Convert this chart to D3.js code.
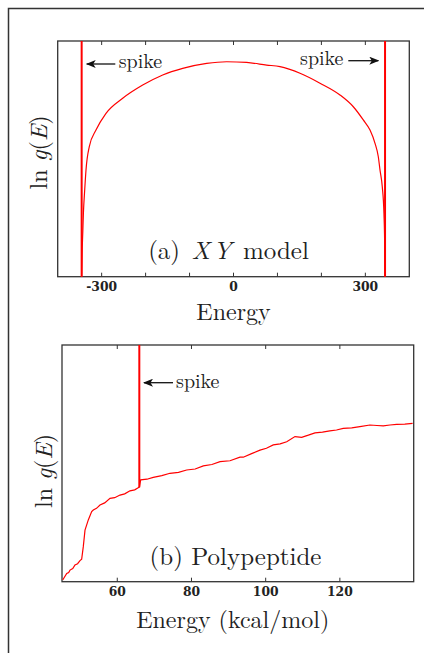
<!DOCTYPE html>
<html>
<head>
<meta charset="utf-8">
<script src="https://cdn.jsdelivr.net/npm/d3@7"></script>
<style>
  html, body { margin: 0; padding: 0; background: #fff; }
  svg { display: block; }
</style>
</head>
<body>
<script>
// (a) XY model: ln g(E) (arbitrary units 0..100)
const xyEnergy = [-345.5, -344.5, -343, -341.5, -338.5, -335.6, -328.1, -312.9, -290.1, -252.1, -206.6, -161.1, -115.6, -61, -15.5, 29.8, 75.3, 105.8, 151.3, 196.8, 242.3, 272.6, 295.3, 310.6, 322, 329.5, 333.3, 338.6, 342.3, 344.3, 344.8];
const xyLnG = [0, 10, 18.4, 27, 37, 45.3, 55.2, 62.2, 69.3, 75.7, 81.3, 85.6, 88.4, 90.5, 91.2, 90.9, 89.8, 89.1, 86.3, 82.1, 77.1, 72.1, 66.5, 62.2, 56.6, 50.9, 45.3, 38, 26.9, 10, 0];
const xySpikes = [-345.5, 344.8];
const xyTicks = [-300, -200, -100, 0, 100, 200, 300];
const xyTickLabels = [-300, 0, 300];

// (b) Polypeptide
const pepEnergy = [45.29, 46.37, 46.9, 47.26, 48.0, 48.6, 49.3, 49.95, 50.4, 50.84, 51.3, 52.19, 53.1, 53.54, 54.4, 55.34, 56.6, 58.04, 59.3, 60.73, 62.0, 63.43, 64.7, 65.85, 65.94, 66.31, 68.0, 69.7, 72.0, 74.2, 76.5, 78.7, 81.0, 83.19, 85.5, 87.7, 90.38, 93.08, 93.97, 96.2, 98.47, 100.2, 102.05, 103.9, 105.67, 107.9, 109.7, 111.5, 113.3, 115.3, 117.3, 119.1, 120.9, 123.2, 125.4, 128.1, 130.0, 131.7, 133.5, 135.3, 137.5, 139.6];
const pepLnG = [0.7, 3.5, 3.9, 4.9, 5.6, 7.1, 7.6, 8.9, 9.5, 14.8, 21.8, 26.1, 29.6, 30.3, 31.0, 32.4, 33.3, 35.2, 35.5, 36.6, 37.1, 38.4, 38.8, 39.9, 39.9, 43.0, 43.3, 44.1, 44.8, 45.8, 46.2, 47.2, 47.6, 48.9, 49.5, 50.7, 51.1, 52.6, 52.6, 54.1, 55.6, 56.4, 57.8, 58.2, 59.1, 61.3, 61.0, 61.9, 62.9, 63.2, 63.7, 64.1, 64.8, 65.0, 65.5, 66.2, 66.0, 65.8, 66.2, 66.5, 66.6, 66.9];
const pepSpike = [65.94, 39.9];
const pepTicks = [60, 80, 100, 120];

const SERIF = "Latin Modern Roman";

const svg = d3.select("body").append("svg").attr("width", 424).attr("height", 653);

// outer frame (only top and left edges visible)
svg.append("path").attr("d", "M8.5,653V8.5H424").attr("fill", "none").attr("stroke", "#333").attr("stroke-width", 1.5);

const defs = svg.append("defs");
defs.append("marker").attr("id", "head").attr("viewBox", "0 0 10 8")
  .attr("refX", 9).attr("refY", 4).attr("markerWidth", 10).attr("markerHeight", 8)
  .attr("markerUnits", "userSpaceOnUse").attr("orient", "auto")
  .append("path").attr("d", "M0,0L10,4L0,8L2.5,4Z").attr("fill", "#111");

function label(g, size) {
  return g.append("text").attr("font-family", SERIF).attr("font-size", size).attr("fill", "#222");
}

function panel(o) {
  const x = d3.scaleLinear().domain(o.xDomain).range([o.left, o.right]);
  const y = d3.scaleLinear().domain([0, 100]).range([o.bottom, o.top]);
  const g = svg.append("g");

  g.append("rect").attr("x", o.left).attr("y", o.top)
    .attr("width", o.right - o.left).attr("height", o.bottom - o.top)
    .attr("fill", "none").attr("stroke", "#333").attr("stroke-width", 1.3);

  // inward ticks top and bottom
  o.ticks.forEach(t => {
    g.append("line").attr("x1", x(t)).attr("x2", x(t)).attr("y1", o.bottom).attr("y2", o.bottom - 4)
      .attr("stroke", "#333").attr("stroke-width", 1);
    g.append("line").attr("x1", x(t)).attr("x2", x(t)).attr("y1", o.top).attr("y2", o.top + 4)
      .attr("stroke", "#333").attr("stroke-width", 1);
  });
  o.tickLabels.forEach(t => {
    g.append("text").attr("font-family", "DejaVu Serif").attr("font-weight", "bold").attr("font-size", 12.3)
      .attr("fill", "#222").attr("x", x(t)).attr("y", o.tickY)
      .attr("text-anchor", "middle").text(t);
  });

  const line = d3.line().x((d, i) => x(o.xs[i])).y(d => y(d)).curve(o.curve);
  g.append("path").datum(o.ys).attr("d", line)
    .attr("fill", "none").attr("stroke", "#ff0000").attr("stroke-width", 1.2);

  o.spikes.forEach(s => {
    g.append("line").attr("x1", x(s[0])).attr("x2", x(s[0]))
      .attr("y1", y(100)).attr("y2", y(s[1]))
      .attr("stroke", "#ff0000").attr("stroke-width", 2);
  });

  o.notes.forEach(n => {
    g.append("line").attr("x1", n.tail).attr("x2", n.tip).attr("y1", n.ay).attr("y2", n.ay)
      .attr("stroke", "#111").attr("stroke-width", 1.3).attr("marker-end", "url(#head)");
    label(g, 20).attr("x", n.tx).attr("y", n.ty).text("spike");
  });

  // panel title; math italic parts get a little extra spacing, as in TeX
  const tt = label(g, 25).attr("x", o.titleX).attr("y", o.titleY).attr("text-anchor", "middle");
  o.title.forEach(p => tt.append("tspan")
    .attr("font-style", p[1] ? "italic" : null)
    .attr("letter-spacing", p[1] ? 3 : null)
    .attr("dx", p[1] ? 3 : null)
    .text(p[0]));

  label(g, 24).attr("x", o.xLabelX).attr("y", o.xLabelY).attr("text-anchor", "middle").text(o.xLabel);

  const yl = label(g, 24).attr("text-anchor", "middle")
    .attr("transform", `translate(${o.yLabelX},${o.yLabelY}) rotate(-90)`);
  yl.append("tspan").text("ln ");
  yl.append("tspan").attr("font-style", "italic").text("g");
  yl.append("tspan").text("(");
  yl.append("tspan").attr("font-style", "italic").text("E");
  yl.append("tspan").text(")");
}

panel({
  xDomain: [-400, 400], left: 57.7, right: 409.3, top: 41, bottom: 276.7,
  xs: xyEnergy, ys: xyLnG, curve: d3.curveMonotoneX,
  spikes: xySpikes.map(s => [s, 0]),
  ticks: xyTicks, tickLabels: xyTickLabels, tickY: 290.5,
  notes: [
    { tail: 115.3, tip: 86.7, ay: 64, tx: 118.7, ty: 68.3 },
    { tail: 348.3, tip: 378.3, ay: 60.7, tx: 300, ty: 65 }
  ],
  title: [["(a) ", false], ["XY", true], [" model", false]], titleX: 228.5, titleY: 258.5,
  xLabel: "Energy", xLabelX: 233.5, xLabelY: 320,
  yLabelX: 47, yLabelY: 152.5
});

panel({
  xDomain: [45.1, 139.9], left: 62, right: 413.7, top: 345, bottom: 581.7,
  xs: pepEnergy, ys: pepLnG, curve: d3.curveLinear,
  spikes: [pepSpike],
  ticks: pepTicks, tickLabels: pepTicks, tickY: 596,
  notes: [
    { tail: 173, tip: 144, ay: 382.7, tx: 176, ty: 388 }
  ],
  title: [["(b) Polypeptide", false]], titleX: 235.5, titleY: 565,
  xLabel: "Energy (kcal/mol)", xLabelX: 232.7, xLabelY: 628.3,
  yLabelX: 52, yLabelY: 471
});
</script>
</body>
</html>
